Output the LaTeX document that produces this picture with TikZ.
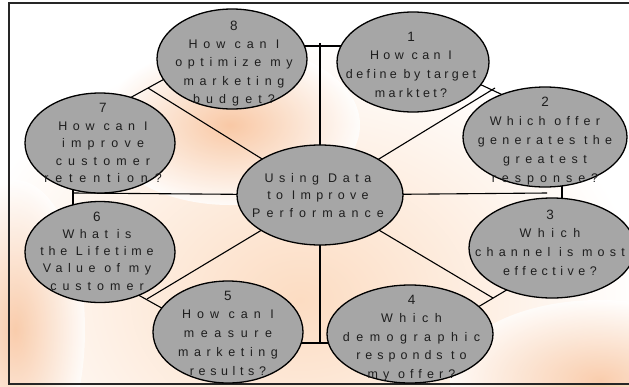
\documentclass[tikz,border=0pt]{standalone}
\usepackage{fontspec}
\setmainfont{Liberation Sans}
\usetikzlibrary{shapes.geometric}
\pgfdeclarelayer{deco}
\pgfdeclarelayer{lines}
\pgfsetlayers{deco,lines,main}
\definecolor{bubgray}{HTML}{A6A6A6}
\definecolor{textgray}{HTML}{1E1E1E}
\definecolor{peach}{HTML}{FCDCC2}
\definecolor{orng}{HTML}{F5A870}
\newcommand\lsp[2]{{\addfontfeature{LetterSpace=#1}#2}}
\newcommand\dg[1]{{\fontsize{13.5}{18}\selectfont\addfontfeature{LetterSpace=0}#1}}
\begin{document}
\begin{tikzpicture}[x=1pt,y=-1pt,
  bub/.style={ellipse, draw=black, line width=1.3pt, fill=bubgray, inner sep=0pt},
  txt/.style={align=center, inner sep=0pt, text=textgray,
    font=\fontsize{12.5}{#1}\selectfont},
  link/.style={draw=black, line width=1.1pt}]
\useasboundingbox (0,0) rectangle (629,386);
% background decoration
\begin{pgfonlayer}{deco}
  \fill[white] (0,0) rectangle (629,386);
  \shade[inner color=peach, outer color=white] (300,300) ellipse (340 and 260);
  \shade[inner color=orng!75, outer color=white, opacity=0.8] (230,125) ellipse (130 and 80);
  \shade[inner color=orng!80, outer color=white, opacity=0.7] (15,330) ellipse (70 and 150);
  \shade[inner color=orng!80, outer color=white, opacity=0.7] (600,380) ellipse (150 and 80);
  \draw[line width=1.8pt, draw=black!85] (660,384) -- (9,384) -- (9,3) -- (660,3);
\end{pgfonlayer}
% bubbles
\node[bub, minimum width=166pt, minimum height=100pt] (c) at (320,195) {};
\node[bub, minimum width=150pt, minimum height=100pt] (b8) at (232,59) {};
\node[bub, minimum width=152pt, minimum height=100pt] (b1) at (413,62) {};
\node[bub, minimum width=164pt, minimum height=100pt] (b2) at (545,137) {};
\node[bub, minimum width=166pt, minimum height=100pt] (b3) at (552,248) {};
\node[bub, minimum width=166pt, minimum height=98pt] (b4) at (410,334) {};
\node[bub, minimum width=150pt, minimum height=102pt] (b5) at (228,332) {};
\node[bub, minimum width=150pt, minimum height=101pt] (b6) at (100,252) {};
\node[bub, minimum width=150pt, minimum height=100pt] (b7) at (100,143) {};
% texts
\node[txt=17.5] (tc) at (318,195.5) {\lsp{45}{Using Data}\\\lsp{42}{to Improve}\\\lsp{48}{Performance}};
\node[txt=18.25] (t8) at (234,63.5) {\dg{8}\\\lsp{47}{How can I}\\\lsp{45}{optimize my}\\\lsp{46}{marketing}\\\lsp{49}{budget?}};
\node[txt=18.7] (t1) at (411,64.5) {\dg{1}\\\lsp{35}{How can I}\\\lsp{27}{define by target}\\\lsp{27}{marktet?}};
\node[txt=19] (t2) at (545,141) {\dg{2}\\\lsp{42}{Which offer}\\\lsp{42}{generates the}\\\lsp{44}{greatest}\\\lsp{48}{response?}};
\node[txt=18.7] (t3) at (550,242.5) {\dg{3}\\\lsp{52}{Which}\\\lsp{42}{channel is most}\\\lsp{36}{effective?}};
\node[txt=18.5] (t4) at (411.5,338) {\dg{4}\\\lsp{52}{Which}\\\lsp{52}{demographic}\\\lsp{40}{responds to}\\\lsp{41}{my offer?}};
\node[txt=18.75] (t5) at (228,333) {\dg{5}\\\lsp{48}{How can I}\\\lsp{53}{measure}\\\lsp{45}{marketing}\\\lsp{37}{results?}};
\node[txt=17.25] (t6) at (97,251) {\dg{6}\\\lsp{43}{What is}\\\lsp{39}{the Lifetime}\\\lsp{43}{Value of my}\\\lsp{48}{customer}};
\node[txt=17.5] (t7) at (103,143) {\dg{7}\\\lsp{45}{How can I}\\\lsp{50}{improve}\\\lsp{49}{customer}\\\lsp{55}{retention?}};
% spoke ends and bars
\coordinate (sT) at (320,43);
\coordinate (sB) at (320,343);
\coordinate (sL) at (73,193);
\coordinate (sR) at (547,193);
\coordinate (sUR) at (495,88);
\coordinate (sUL) at (148,88);
\coordinate (sLL) at (147,299);
\coordinate (sLR) at (493,298);
\coordinate (bT1) at (290,46);   \coordinate (bT2) at (345,46);
\coordinate (bB1) at (300,343);  \coordinate (bB2) at (335,343);
\coordinate (bL1) at (73,185);   \coordinate (bL2) at (73,208);
\coordinate (bR1) at (562,184);  \coordinate (bR2) at (562,201);
\coordinate (bUR1) at (475,82);  \coordinate (bUR2) at (505,96);
\coordinate (bUL1) at (128,99);  \coordinate (bUL2) at (168,77);
\coordinate (bLL1) at (133,292); \coordinate (bLL2) at (167,311);
\coordinate (bLR1) at (510,288); \coordinate (bLR2) at (473,310);
\begin{pgfonlayer}{lines}
  \foreach \s in {sT,sB,sL,sR,sUR,sUL,sLL,sLR}
    \draw[link] (c.center) -- (\s);
  \foreach \a/\b in {bT1/bT2,bB1/bB2,bL1/bL2,bR1/bR2,bUR1/bUR2,bUL1/bUL2,bLL1/bLL2,bLR1/bLR2}
    \draw[link] (\a) -- (\b);
\end{pgfonlayer}
\end{tikzpicture}
\end{document}
